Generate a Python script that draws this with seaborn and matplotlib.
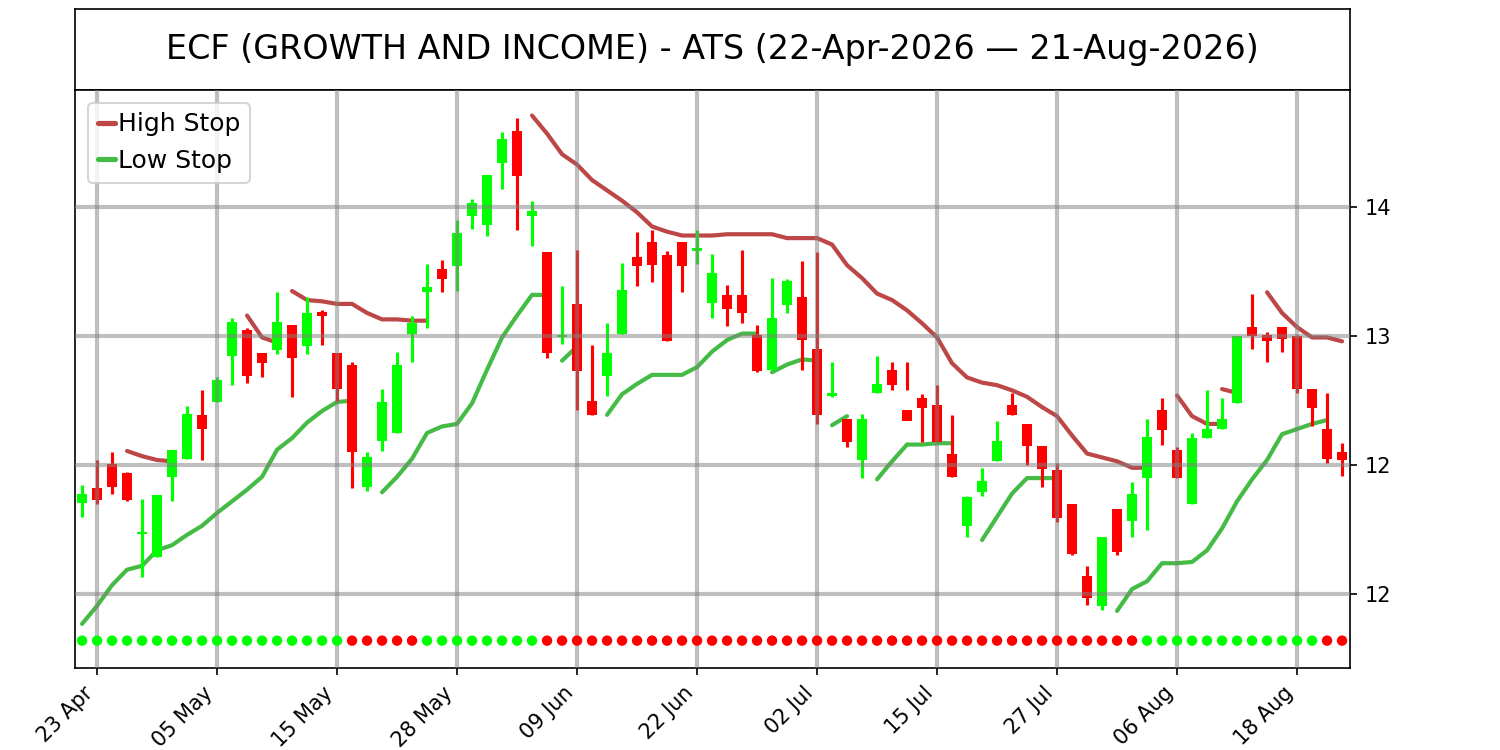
import pandas as pd
import seaborn as sns
import matplotlib.pyplot as plt
from matplotlib.lines import Line2D
from matplotlib.ticker import MultipleLocator, FormatStrFormatter

# Trading days 22-Apr-2026 .. 21-Aug-2026 (US market holidays skipped)
holidays = ["2026-05-25", "2026-06-19", "2026-07-03"]
dates = pd.bdate_range("2026-04-22", "2026-08-21", freq="C", holidays=holidays)

# OHLC
opens = [12.355, 12.41, 12.505, 12.47, 12.235, 12.145, 12.455, 12.525, 12.695, 12.745,
         12.925, 13.025, 12.935, 12.945, 13.045, 12.96, 13.095, 12.935, 12.89, 12.415,
         12.595, 12.625, 13.01, 13.17, 13.26, 13.27, 13.465, 13.43, 13.67, 13.795,
         13.465, 13.325, 12.995, 13.125, 12.75, 12.845, 13.01, 13.305, 13.365, 13.315,
         13.365, 13.33, 13.13, 13.16, 13.16, 13.005, 12.87, 13.12, 13.15, 12.95,
         12.77, 12.68, 12.52, 12.78, 12.87, 12.715, 12.76, 12.735, 12.545, 12.265,
         12.395, 12.515, 12.735, 12.66, 12.575, 12.48, 12.35, 12.07, 11.955, 12.33,
         12.285, 12.45, 12.715, 12.56, 12.35, 12.605, 12.64, 12.74, 13.035, 13.005,
         13.035, 13.0, 12.795, 12.64, 12.55]
highs = [12.423, 12.52, 12.55, 12.475, 12.37, 12.385, 12.56, 12.73, 12.79, 12.84,
         13.07, 13.03, 12.935, 13.17, 13.045, 13.15, 13.10, 12.935, 12.90, 12.55,
         12.795, 12.94, 13.08, 13.28, 13.295, 13.45, 13.53, 13.625, 13.79, 13.845,
         13.525, 13.325, 13.195, 13.335, 12.965, 13.05, 13.285, 13.405, 13.41, 13.33,
         13.365, 13.41, 13.32, 13.20, 13.335, 13.045, 13.225, 13.22, 13.29, 13.325,
         12.90, 12.68, 12.70, 12.925, 12.90, 12.90, 12.775, 12.81, 12.695, 12.38,
         12.49, 12.67, 12.78, 12.66, 12.575, 12.51, 12.35, 12.11, 12.22, 12.33,
         12.435, 12.68, 12.76, 12.57, 12.625, 12.79, 12.76, 13.0, 13.165, 13.015,
         13.035, 13.005, 12.795, 12.78, 12.585]
lows = [12.30, 12.35, 12.39, 12.36, 12.065, 12.145, 12.36, 12.525, 12.52, 12.745,
        12.81, 12.82, 12.84, 12.93, 12.765, 12.93, 12.965, 12.75, 12.41, 12.40,
        12.555, 12.625, 12.90, 13.03, 13.17, 13.175, 13.415, 13.39, 13.57, 13.41,
        13.35, 12.915, 12.97, 12.715, 12.695, 12.77, 13.01, 13.195, 13.21, 12.98,
        13.17, 13.28, 13.07, 13.04, 13.05, 12.86, 12.87, 13.09, 12.87, 12.66,
        12.765, 12.57, 12.45, 12.78, 12.79, 12.79, 12.59, 12.59, 12.455, 12.22,
        12.38, 12.515, 12.695, 12.50, 12.415, 12.28, 12.15, 11.96, 11.94, 12.15,
        12.22, 12.25, 12.58, 12.45, 12.35, 12.605, 12.64, 12.74, 12.95, 12.90,
        12.94, 12.78, 12.65, 12.51, 12.46]
closes = [12.39, 12.365, 12.415, 12.365, 12.24, 12.385, 12.56, 12.70, 12.64, 12.83,
          13.055, 12.845, 12.895, 13.055, 12.915, 13.09, 13.08, 12.795, 12.55, 12.53,
          12.745, 12.89, 13.05, 13.19, 13.22, 13.40, 13.515, 13.625, 13.765, 13.62,
          13.485, 12.935, 13.005, 12.865, 12.695, 12.935, 13.18, 13.27, 13.275, 12.98,
          13.27, 13.34, 13.245, 13.105, 13.09, 12.865, 13.07, 13.215, 12.985, 12.695,
          12.78, 12.59, 12.68, 12.815, 12.81, 12.67, 12.72, 12.59, 12.455, 12.375,
          12.44, 12.595, 12.695, 12.575, 12.485, 12.295, 12.155, 11.985, 12.22, 12.165,
          12.39, 12.61, 12.635, 12.45, 12.605, 12.64, 12.68, 13.0, 13.0, 12.98,
          12.99, 12.795, 12.72, 12.525, 12.52]

# Stop lines: (first day index, values)
high_stop = [
    (3, [12.555, 12.535, 12.52, 12.515]),
    (11, [13.08, 12.995, 12.975]),
    (14, [13.175, 13.14, 13.135, 13.125, 13.125, 13.09, 13.065, 13.065, 13.06, 13.06]),
    (30, [13.855, 13.785, 13.705, 13.665, 13.605, 13.565, 13.525, 13.48, 13.425, 13.405,
          13.39, 13.39, 13.39, 13.395, 13.395, 13.395, 13.395, 13.38, 13.38, 13.38,
          13.355, 13.275, 13.225, 13.165, 13.14, 13.10, 13.05, 12.995, 12.895, 12.84,
          12.82, 12.81, 12.79, 12.765, 12.725, 12.69, 12.615, 12.545, 12.53, 12.515,
          12.49, 12.49]),
    (73, [12.77, 12.69, 12.66, 12.66]),
    (76, [12.795, 12.78]),
    (79, [13.17, 13.09, 13.035, 12.995, 12.995, 12.98]),
]
low_stop = [
    (0, [11.885, 11.955, 12.035, 12.095, 12.11, 12.17, 12.19, 12.23, 12.265, 12.315,
         12.36, 12.405, 12.455, 12.56, 12.605, 12.665, 12.71, 12.745, 12.75]),
    (20, [12.395, 12.455, 12.525, 12.625, 12.65, 12.66, 12.74, 12.87, 12.995, 13.08,
          13.16, 13.16]),
    (32, [12.905, 12.96]),
    (35, [12.695, 12.775, 12.815, 12.85, 12.85, 12.85, 12.88, 12.94, 12.985, 13.01, 13.01]),
    (46, [12.86, 12.89, 12.91, 12.905]),
    (50, [12.655, 12.69]),
    (53, [12.445, 12.515, 12.58, 12.58, 12.585, 12.585]),
    (60, [12.21, 12.30, 12.39, 12.45, 12.45, 12.45]),
    (69, [11.935, 12.02, 12.05, 12.12, 12.12, 12.125, 12.17, 12.255, 12.36, 12.445,
          12.52, 12.62, 12.64, 12.66, 12.675]),
]

# Trend signal per day (G = up, R = down)
trend = "GGGGGGGGGGGGGGGGGG" "RRRRR" "GGGGGGGG" + "R" * 40 + "GGGGGGGGGGGG" "RR"
signal_level = 11.82

title = "ECF (GROWTH AND INCOME) - ATS (22-Apr-2026 \u2014 21-Aug-2026)"

sns.set_style("ticks", {"xtick.major.size": 3.5, "ytick.major.size": 3.5,
                        "axes.edgecolor": "black", "text.color": "black",
                        "xtick.color": "black", "ytick.color": "black",
                        "axes.labelcolor": "black"})
plt.rcParams["font.family"] = ["DejaVu Sans"]

UP, DOWN = "#00ff00", "#ff0000"
HIGH_C, LOW_C = "#bd4646", "#44bb44"

fig = plt.figure(figsize=(10, 5), dpi=150)
tax = fig.add_axes([0.05, 0.88, 0.85, 0.108])
ax = fig.add_axes([0.05, 0.109, 0.85, 0.771])

# title box
tax.set_xticks([])
tax.set_yticks([])
tax.text(0.5, 0.5, title, ha="center", va="center", fontsize=16, color="black",
         transform=tax.transAxes)

# candles
idx = list(range(len(dates)))
df = pd.DataFrame({"i": idx, "o": opens, "h": highs, "l": lows, "c": closes})
df["col"] = [UP if c >= o else DOWN for o, c in zip(df["o"], df["c"])]
ax.vlines(df["i"], df["l"], df["h"], colors=df["col"], linewidth=1.5, zorder=1.5)
ax.bar(df["i"], df["c"] - df["o"], bottom=df["o"], width=0.7, color=df["col"],
       linewidth=0, zorder=1.6)

# stop lines
def seg_frame(segs):
    rows = []
    for k, (start, vals) in enumerate(segs):
        for j, v in enumerate(vals):
            rows.append({"x": start + j, "y": v, "seg": k})
    return pd.DataFrame(rows)

sns.lineplot(data=seg_frame(high_stop), x="x", y="y", units="seg", estimator=None,
             sort=False, color=HIGH_C, linewidth=2, ax=ax, zorder=1.2)
sns.lineplot(data=seg_frame(low_stop), x="x", y="y", units="seg", estimator=None,
             sort=False, color=LOW_C, linewidth=2, ax=ax, zorder=1.2)

# trend dots
dots = pd.DataFrame({"x": idx, "y": [signal_level] * len(idx), "t": list(trend)})
sns.scatterplot(data=dots, x="x", y="y", hue="t", palette={"G": UP, "R": DOWN},
                s=25, linewidth=0, legend=False, ax=ax, zorder=3)

ax.set_xlim(-0.47, len(idx) - 0.47)
ax.set_ylim(11.713, 13.954)
ax.yaxis.tick_right()
ax.yaxis.set_major_locator(MultipleLocator(0.5))
ax.yaxis.set_major_formatter(FormatStrFormatter("%.0f"))
tick_pos = idx[1::8]
ax.set_xticks(tick_pos)
ax.set_xticklabels([dates[p].strftime("%d %b") for p in tick_pos], rotation=45, ha="right")
ax.set_xlabel("")
ax.set_ylabel("")
ax.grid(True, color="gray", alpha=0.5, linewidth=2)
ax.set_axisbelow(False)
for s in ax.spines.values():
    s.set_visible(True)

handles = [Line2D([], [], color=HIGH_C, lw=2.5), Line2D([], [], color=LOW_C, lw=2.5)]
leg = ax.legend(handles, ["High Stop", "Low Stop"], loc="upper left", fontsize=12,
                handlelength=0.7, handletextpad=0.1)
for t in leg.get_texts():
    t.set_color("black")

fig.savefig("out.png", dpi=150)
